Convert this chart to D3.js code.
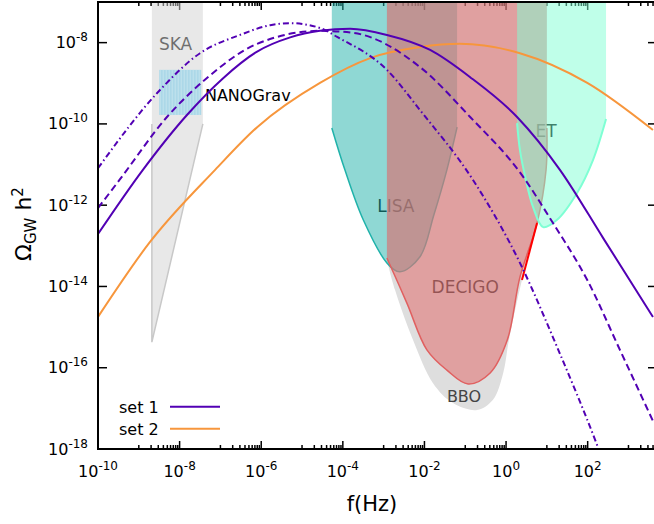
<!DOCTYPE html>
<html>
<head>
<meta charset="utf-8">
<script src="https://cdn.jsdelivr.net/npm/d3@7"></script>
<style>
  body { margin: 0; background: #fff; }
  svg { display: block; font-family: "DejaVu Sans", Verdana, sans-serif; }
</style>
</head>
<body>
<svg id="chart" width="654" height="524"></svg>
<script>
// every point is [log10(f / Hz), log10(Omega_GW h^2)]
const set1Solid = [[-10, -12.71], [-8.9, -11.13], [-7.82, -9.78], [-6.94, -8.88], [-6.1, -8.22], [-5.29, -7.87],
  [-4.56, -7.71], [-3.82, -7.66], [-2.92, -7.81], [-1.86, -8.18], [-0.88, -8.85], [0.27, -9.83],
  [1.32, -11.13], [2.38, -12.81], [3.6, -14.75]];
const set1Dashed = [[-10, -12.07], [-9.46, -11.36], [-8.31, -9.83], [-7.33, -8.87], [-6.1, -8.03], [-4.56, -7.71],
  [-3.75, -7.76], [-2.11, -8.6], [-0.88, -9.83], [0.39, -11.26], [1.15, -12.44], [1.99, -13.84],
  [2.79, -15.56], [3.6, -17.31]];
const set1DashDot = [[-10, -11.09], [-8.55, -9.24], [-7.5, -8.26], [-6.52, -7.81], [-5.78, -7.57], [-5.29, -7.52],
  [-4.56, -7.64], [-4.14, -7.86], [-2.92, -8.67], [-2.11, -9.66], [-0.81, -11.38], [0.34, -13.42],
  [1.25, -15.49], [2.23, -17.9], [2.55, -18.76]];
const set2 = [[-10, -14.75], [-8.73, -12.91], [-7.13, -11.13], [-6.1, -10.08], [-4.56, -8.99], [-3.33, -8.38],
  [-2.11, -8.11], [-1.13, -8.03], [0.34, -8.26], [1.99, -8.99], [3.6, -10.15]];

// detector sensitivity curves (regions are filled from the curve up to the top of the plot)
const ska = [[-8.68, -10.0], [-8.68, -15.37], [-7.43, -10.0]];
const nanogravF = [-8.5, -7.47];
const nanogravOmega = [-9.78, -8.67];
const lisa = [[-4.27, -10.1], [-3.95, -11.13], [-3.5, -12.36], [-2.92, -13.42], [-2.6, -13.64], [-2.11, -13.27],
  [-1.77, -12.24], [-1.45, -11.13], [-1.2, -10.08]];
const decigo = [[-2.92, -13.3], [-2.43, -14.41], [-1.94, -15.56], [-1.45, -16.06], [-0.93, -16.4], [-0.39, -16.13],
  [0.03, -15.32], [0.34, -13.77], [0.76, -12.44], [0.98, -11.13], [1.0, -10.1]];
const bbo = [[-2.92, -13.35], [-2.72, -14.09], [-2.28, -15.32], [-1.79, -16.38], [-1.3, -16.87], [-0.71, -17.04],
  [-0.32, -16.79], [-0.07, -16.13], [0.07, -15.32], [0.39, -13.84], [0.76, -12.44]];
const et = [[0.27, -9.98], [0.34, -10.64], [0.47, -11.31], [0.66, -12.04], [0.91, -12.54], [1.25, -12.36],
  [1.74, -11.7], [2.13, -10.89], [2.45, -9.88]];

const xTickExps = [-10, -8, -6, -4, -2, 0, 2];
const yTickExps = [-18, -16, -14, -12, -10, -8];
const seriesNames = ["set 1", "set 2"];

const purple = "#5200b4", orange = "#f7963c";
const pLeft = 98, pRight = 657, pTop = 2, pBottom = 449;

const x = d3.scaleLog().domain([1e-10, 5e3]).range([pLeft, pRight]);
const y = d3.scaleLog().domain([1e-18, 1e-7]).range([pBottom, pTop]);
const px = d => x(Math.pow(10, d[0]));
const py = d => y(Math.pow(10, d[1]));

const svg = d3.select("#chart");
svg.append("defs").append("clipPath").attr("id", "plot")
  .append("rect").attr("x", pLeft).attr("y", pTop).attr("width", pRight - pLeft).attr("height", pBottom - pTop);

// ticks (drawn under the detector regions)
const ticks = svg.append("g").attr("stroke", "#000").attr("stroke-width", 1.5);
xTickExps.concat([4]).forEach(e => {
  const xv = x(Math.pow(10, e));
  if (xv <= pRight) {
    ticks.append("line").attr("x1", xv).attr("x2", xv).attr("y1", pBottom).attr("y2", pBottom - 8);
    ticks.append("line").attr("x1", xv).attr("x2", xv).attr("y1", pTop).attr("y2", pTop + 8);
  }
  d3.range(1, 10).forEach(k => {
    const xm = x(k * Math.pow(10, e + 1));
    if (xm > pRight) return;
    ticks.append("line").attr("x1", xm).attr("x2", xm).attr("y1", pBottom).attr("y2", pBottom - 4);
    ticks.append("line").attr("x1", xm).attr("x2", xm).attr("y1", pTop).attr("y2", pTop + 4);
  });
});
yTickExps.forEach(e => {
  const yv = y(Math.pow(10, e));
  ticks.append("line").attr("x1", pLeft).attr("x2", pLeft + 9).attr("y1", yv).attr("y2", yv);
  ticks.append("line").attr("x1", pRight).attr("x2", pRight - 9).attr("y1", yv).attr("y2", yv);
});

const plot = svg.append("g").attr("clip-path", "url(#plot)");
const lineC = d3.line().x(px).y(py).curve(d3.curveCatmullRom);
const lineM = d3.line().x(px).y(py).curve(d3.curveMonotoneX);
const lineL = d3.line().x(px).y(py);
const areaC = d3.area().x(px).y0(pTop).y1(py).curve(d3.curveCatmullRom);
const areaL = d3.area().x(px).y0(pTop).y1(py);

function label(text, lf, lo, anchor, size, color) {
  plot.append("text").attr("x", x(Math.pow(10, lf))).attr("y", y(Math.pow(10, lo)))
    .attr("text-anchor", anchor).attr("font-size", size).attr("fill", color || "#000").text(text);
}

// BBO: the grey rim between its curve and the DECIGO curve
const bboEnd = bbo[bbo.length - 1][0];
const bboPath = lineC(bbo) + lineC(decigo.filter(d => d[0] <= bboEnd).reverse()).replace(/^M/, "L") + "Z";
plot.append("path").attr("d", bboPath).attr("fill", "#dedede");
label("BBO", -1.03, -16.84, "middle", 16, "#444");

// labels that sit underneath the translucent regions
label("SKA", -8.1, -8.18, "middle", 17);
label("LISA", -2.7, -12.16, "middle", 17);
label("DECIGO", -1.0, -14.17, "middle", 17);
label("ET", 0.98, -10.31, "middle", 17);

// SKA
plot.append("path").attr("d", areaL(ska)).attr("fill", "rgba(211,211,211,0.52)");
plot.append("path").attr("d", lineL(ska)).attr("fill", "none").attr("stroke", "#c8c8c8").attr("stroke-width", 1.5);

// NANOGrav
const nx0 = x(Math.pow(10, nanogravF[0])), nx1 = x(Math.pow(10, nanogravF[1]));
const ny0 = y(Math.pow(10, nanogravOmega[1])), ny1 = y(Math.pow(10, nanogravOmega[0]));
plot.append("rect").attr("x", nx0).attr("y", ny0).attr("width", nx1 - nx0).attr("height", ny1 - ny0)
  .attr("fill", "#acd8e8");
plot.append("g").selectAll("line").data(d3.range(nx0 + 1, nx1, 3)).join("line")
  .attr("x1", d => d).attr("x2", d => d).attr("y1", ny0).attr("y2", ny1)
  .attr("stroke", "#c2e3ef").attr("stroke-width", 1);
label("NANOGrav", -7.38, -9.44, "start", 16);

// LISA
plot.append("path").attr("d", areaC(lisa)).attr("fill", "rgba(32,178,170,0.5)");
plot.append("path").attr("d", lineC(lisa)).attr("fill", "none").attr("stroke", "#20b2aa").attr("stroke-width", 1.5);

// DECIGO
plot.append("path").attr("d", areaC(decigo)).attr("fill", "rgba(211,119,119,0.7)");
plot.append("path").attr("d", lineC(decigo)).attr("fill", "none").attr("stroke", "#e06060").attr("stroke-width", 1.5);
plot.append("path").attr("d", lineL(bbo.slice(-2))).attr("fill", "none").attr("stroke", "#ff0000").attr("stroke-width", 2);

// ET
plot.append("path").attr("d", areaC(et)).attr("fill", "rgba(127,255,212,0.5)");
plot.append("path").attr("d", lineC(et)).attr("fill", "none").attr("stroke", "#7fffd4").attr("stroke-width", 2);

// spectra
const curves = [
  { data: set2, color: orange, dash: null },
  { data: set1Solid, color: purple, dash: null },
  { data: set1Dashed, color: purple, dash: "7,4" },
  { data: set1DashDot, color: purple, dash: "6,3,1.5,3" }
];
curves.forEach(c => {
  plot.append("path").attr("d", lineM(c.data)).attr("fill", "none")
    .attr("stroke", c.color).attr("stroke-width", 2).attr("stroke-dasharray", c.dash);
});

// frame
const frame = svg.append("g").attr("stroke", "#000").attr("stroke-width", 2).attr("fill", "none");
frame.append("path").attr("d", `M${pRight},${pTop}H${pLeft}V${pBottom}H${pRight}`);

// tick labels
xTickExps.forEach(e => {
  const t = svg.append("text").attr("x", x(Math.pow(10, e))).attr("y", 477)
    .attr("text-anchor", "middle").attr("font-size", 16);
  t.append("tspan").text("10");
  t.append("tspan").attr("dy", -7).attr("font-size", 12).text(e);
});
yTickExps.forEach(e => {
  const t = svg.append("text").attr("x", 88).attr("y", y(Math.pow(10, e)) + 5.5)
    .attr("text-anchor", "end").attr("font-size", 16);
  t.append("tspan").text("10");
  t.append("tspan").attr("dy", -7).attr("font-size", 12).text(e);
});

// axis titles
svg.append("text").attr("x", 372).attr("y", 511).attr("text-anchor", "middle")
  .attr("font-size", 21).text("f(Hz)");
const yt = svg.append("text").attr("transform", "translate(31,224) rotate(-90)")
  .attr("text-anchor", "middle").attr("font-size", 22);
yt.append("tspan").text("Ω");
yt.append("tspan").attr("font-size", 15).attr("dy", 5).text("GW");
yt.append("tspan").attr("dy", -5).text(" h");
yt.append("tspan").attr("font-size", 15).attr("dy", -8).text("2");

// legend
const legend = svg.append("g");
[purple, orange].forEach((col, i) => {
  legend.append("text").attr("x", 119).attr("y", 413 + i * 22).attr("font-size", 16).text(seriesNames[i]);
  legend.append("line").attr("x1", 170).attr("x2", 220).attr("y1", 406.7 + i * 22).attr("y2", 406.7 + i * 22)
    .attr("stroke", col).attr("stroke-width", 2);
});
</script>
</body>
</html>
